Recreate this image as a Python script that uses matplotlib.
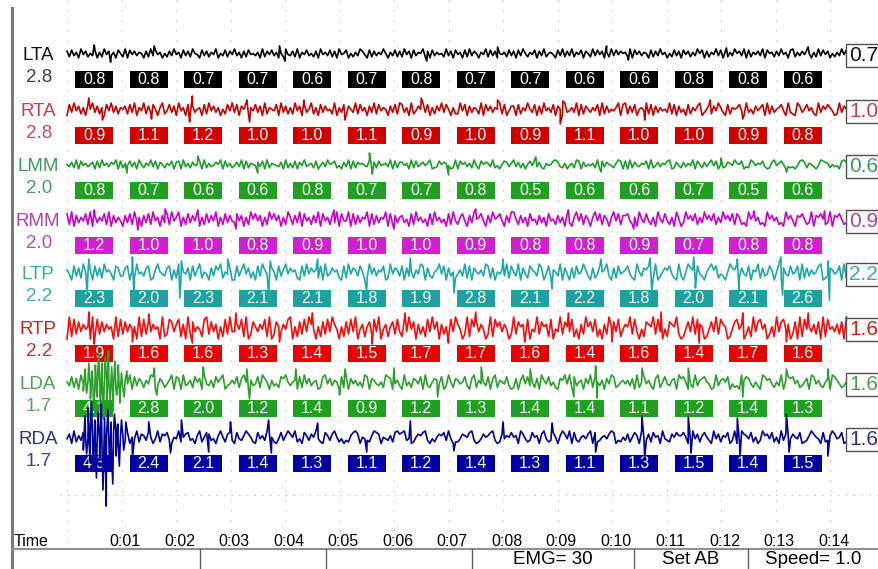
import numpy as np
import matplotlib.pyplot as plt
from matplotlib.patches import Rectangle

plt.rcParams['font.family'] = ['Liberation Sans', 'DejaVu Sans']

# channel names, gain shown under the name, value in the box at the right end
channels = ['LTA', 'RTA', 'LMM', 'RMM', 'LTP', 'RTP', 'LDA', 'RDA']
scales = ['2.8', '2.8', '2.0', '2.0', '2.2', '2.2', '1.7', '1.7']
right_values = ['0.7', '1.0', '0.6', '0.9', '2.2', '1.6', '1.6', '1.6']

# per second values in the small boxes
lta_rms = [0.8, 0.8, 0.7, 0.7, 0.6, 0.7, 0.8, 0.7, 0.7, 0.6, 0.6, 0.8, 0.8, 0.6]
rta_rms = [0.9, 1.1, 1.2, 1.0, 1.0, 1.1, 0.9, 1.0, 0.9, 1.1, 1.0, 1.0, 0.9, 0.8]
lmm_rms = [0.8, 0.7, 0.6, 0.6, 0.8, 0.7, 0.7, 0.8, 0.5, 0.6, 0.6, 0.7, 0.5, 0.6]
rmm_rms = [1.2, 1.0, 1.0, 0.8, 0.9, 1.0, 1.0, 0.9, 0.8, 0.8, 0.9, 0.7, 0.8, 0.8]
ltp_rms = [2.3, 2.0, 2.3, 2.1, 2.1, 1.8, 1.9, 2.8, 2.1, 2.2, 1.8, 2.0, 2.1, 2.6]
rtp_rms = [1.9, 1.6, 1.6, 1.3, 1.4, 1.5, 1.7, 1.7, 1.6, 1.4, 1.6, 1.4, 1.7, 1.6]
lda_rms = [4.1, 2.8, 2.0, 1.2, 1.4, 0.9, 1.2, 1.3, 1.4, 1.4, 1.1, 1.2, 1.4, 1.3]
rda_rms = [4.3, 2.4, 2.1, 1.4, 1.3, 1.1, 1.2, 1.4, 1.3, 1.1, 1.3, 1.5, 1.4, 1.5]

time_labels = ['0:01', '0:02', '0:03', '0:04', '0:05', '0:06', '0:07',
               '0:08', '0:09', '0:10', '0:11', '0:12', '0:13', '0:14']
status_texts = ['EMG= 30', 'Set AB', 'Speed= 1.0']

lta_trace = """728361947253816294736185 291847365172938461527394 618372954183726491538274
936172845361927483615294 372916483527194638271945 815263974182736495163827
294718365927183645293718 461829375164928371546283 718395264817392564183927
392648175293847162938475 629184736518273946152837 184726395817264938172639
573918264739185627394618 926374851629384715263948"""
rta_trace = """183947261859372618493726 572839164927385169248371 946182735618294736152849
381759264837192654819372 629471835926183745291638 175392846173928465173829
836192475938162749385162 294817365291847365928147 718264953817294638175293
463918275364819273546918 927381564928173645392817 351826479135827496318265
684193527468192735684193 219735846219375864129375"""
lmm_trace = """537291846357182946375918 264837195264938175264817 819362745819263475918362
473918265473819265437192 628174935628147395682417 391827564391728456391827
746192835746912385764129 185736294185763924158736 937261584937216458973261
462981735462918375426981 819274365819247365891274 273649185273694815237649
658132974658312794685132 314897265314987625341897"""
rmm_trace = """829173648291736482917364 173829461738294617382946 916283749162837491628374
384716295847162958471629 627391846273918462739184 491827365918273659182736
735182946351829463518294 268417395684173956841739 952736184527361845273618
316948275169482751694827 784261953842619538426195 139574826395748263957482
862319574623195746231957 417685239176852391768523"""
ltp_trace = """641837295461837295641873 378162945378126954378162 925471836925417386925471
183694725183964275183694 756218394756281934756218 294763851294736581294763
817352649817325694817352 463928175463982715463928 539174286539714826539174
172845963172485693172845 684219537684291357684219 315976284315796824315976
927438165927348615927438 458192736458912376458192"""
rtp_trace = """091827364509182736450918 273645091827364509128736 816092735418927360518293
364819027536481902753648 905172839640517283964051 728390461572839046157283
183947062518394706251839 640291857364029185736402 927561804392756180439275
381406295738140629573814 659283041765928304176592 014739286501473928650147
846025193784602519378460 270918453627091845362709"""
lda_trace = """538271946538217946583271 264918375264981375246918 719346285719436285791346
482795163482975163428795 356182947356128947365182 817463529817643529871463
193527648193257648139527 645831792645381792654831 271694835271964835217694
928356174928536174982356 463719258463179258436719 785142936785412936758142
319687425319867425391687 846235719846325719864235"""
rda_trace = """471926385471962385417926 638154927638514927683154 925783416925873416952783
184369752184639752148369 759241863759421863795241 326897154326987154362897
893412576893142576839412 247658931247568931274658 561974238561794238516974
918325647918235647981325 372586194372856194327586 685139472685319472658139
139764825139674825193764 754812369754182369745812"""

# spikes on top of the raw traces: (time s, height px, up positive)
lta_spikes = [(0.5, 9), (0.8, -8), (1.6, 8), (3.9, 8), (4.0, -7), (6.6, -7), (7.9, 7),
              (9.9, 8), (10.3, -6), (12.1, 6), (13.6, 7)]
rta_spikes = [(0.4, 12), (0.65, -10), (1.55, -9), (2.25, -12), (2.3, 14), (3.3, 10), (3.35, -12),
              (4.35, 10), (5.1, -10), (6.5, 12), (7.9, 10), (9.05, -14), (9.1, 9), (10.6, -10),
              (11.8, 10), (12.4, -9)]
lmm_spikes = [(1.1, -8), (2.4, 9), (3.5, -8), (5.55, 12), (5.6, -9), (7.0, -10), (8.6, 8),
              (9.8, -7), (12.0, 7), (13.2, -7)]
rmm_spikes = [(0.5, 10), (1.3, -10), (1.8, 11), (2.4, 10), (3.1, -9), (4.9, 10), (6.0, -9),
              (7.5, 11), (9.2, 10), (10.4, -9), (12.6, 9), (13.9, 9)]
ltp_spikes = [(0.37, -20), (0.4, 14), (1.2, 16), (1.23, -25), (2.07, -25), (2.1, 12), (2.95, 14),
              (3.7, -22), (3.73, 12), (4.6, 14), (5.5, -18), (6.3, 15), (7.1, -20), (8.0, 14),
              (8.9, -16), (9.8, 14), (10.7, 15), (10.73, -18), (11.5, 16), (11.53, -15),
              (12.3, 14), (12.33, -18), (13.1, 16), (13.13, -22), (13.96, 12), (13.99, -27)]
rtp_spikes = [(0.4, 16), (0.5, -16), (1.2, -14), (1.5, 14), (2.3, -15), (3.1, 15), (3.9, -14),
              (4.5, 15), (5.6, -16), (6.2, 15), (7.0, -15), (7.5, 16), (8.4, -14), (9.2, 15),
              (10.0, -14), (10.9, 16), (11.6, -15), (12.4, 15), (13.2, -14), (13.6, 15)]
lda_spikes = [(0.30, -8), (0.33, 14), (0.36, -10), (0.40, 20), (0.43, -16), (0.46, 12), (0.49, -24),
              (0.52, 18), (0.55, -14), (0.58, 30), (0.61, -26), (0.64, 20), (0.67, -36), (0.70, 26),
              (0.73, -22), (0.76, 32), (0.79, -18), (0.82, 16), (0.85, -28), (0.88, 22), (0.91, -12),
              (0.94, 18), (0.97, -20), (1.00, 10), (1.05, -14), (1.10, 12), (1.6, 15), (1.65, -12),
              (2.5, 16), (3.3, 14), (3.35, -16), (4.2, 14), (5.0, -12), (5.1, 14), (6.0, 15),
              (6.8, -14), (7.6, 16), (8.5, 14), (9.3, -14), (9.7, 17), (9.73, -15), (10.55, 15),
              (11.4, 15), (12.4, -14), (13.2, 14), (13.96, 14)]
rda_spikes = [(0.30, -12), (0.33, 22), (0.36, -16), (0.39, 30), (0.42, -24), (0.45, 36), (0.48, -32),
              (0.51, 18), (0.54, -40), (0.57, 26), (0.60, -22), (0.63, 34), (0.66, -52), (0.69, 20),
              (0.72, -68), (0.75, 28), (0.78, -30), (0.81, 16), (0.84, -46), (0.87, 24), (0.90, -18),
              (0.93, 14), (0.96, -28), (1.00, 18), (1.04, -12), (1.08, 16), (1.2, -20), (1.5, 16),
              (1.9, -15), (2.1, 18), (2.6, -14), (3.0, 16), (3.7, 18), (3.75, -15), (4.6, 15),
              (5.5, -14), (6.3, 17), (7.1, -13), (8.0, 16), (8.9, 15), (9.7, -14), (10.55, 22),
              (10.6, -20), (11.4, 21), (11.45, -15), (12.3, 20), (12.35, -18), (13.2, 24),
              (13.25, -14), (13.96, -18)]

rms_rows = [lta_rms, rta_rms, lmm_rms, rmm_rms, ltp_rms, rtp_rms, lda_rms, rda_rms]
trace_rows = [lta_trace, rta_trace, lmm_trace, rmm_trace, ltp_trace, rtp_trace, lda_trace, rda_trace]
spike_rows = [lta_spikes, rta_spikes, lmm_spikes, rmm_spikes, ltp_spikes, rtp_spikes, lda_spikes, rda_spikes]

# styling
trace_amp = [5, 7, 5, 8, 9, 11, 8, 7]
trace_colors = ['#000000', '#c80000', '#1f9e2a', '#cc00cc', '#20a8a8', '#ff0a0a', '#2ca02c', '#00009a']
box_colors = ['#000000', '#d00000', '#20a020', '#d020d0', '#20a0a0', '#e80000', '#20a020', '#0000a0']
label_colors = ['#101010', '#c04050', '#3a9a5a', '#b040b0', '#40a8a8', '#d02020', '#50a050', '#303080']
scale_colors = ['#404040', '#c05060', '#4a9a6a', '#b050b0', '#50a8a8', '#d03030', '#60a060', '#404090']
baselines = [54, 110, 165, 220, 273, 328, 383, 438]

X0, PXS = 67.0, 54.5   # pixel of t=0 and pixels per second
T_END = 14.3


def t_of(px):
    return (px - X0) / PXS


fig = plt.figure(figsize=(8.79, 5.69), dpi=100)
ax = fig.add_axes([0, 0, 1, 1])
ax.set_xlim(t_of(0), t_of(879))
ax.set_ylim(569, 0)
ax.axis('off')

# dotted grid
for k in range(15):
    ax.plot([k, k], [0, 545], color='#b4b4b4', lw=0.8, ls=(0, (1, 8)), zorder=1)
ax.plot([t_of(60), t_of(879)], [495, 495], color='#b4b4b4', lw=0.8, ls=(0, (1, 6)), zorder=1)

for r in range(len(channels)):
    base = baselines[r]
    digits = ''.join(trace_rows[r].split())
    levels = np.array([int(c) for c in digits], dtype=float)
    vals = (levels - 4.5) / 4.5 * trace_amp[r]
    ts = np.linspace(0, T_END, len(vals))
    sp_t = np.array([s[0] for s in spike_rows[r]])
    sp_v = np.array([s[1] for s in spike_rows[r]], dtype=float)
    t_all = np.concatenate([ts, sp_t])
    v_all = np.concatenate([vals, sp_v])
    order = np.argsort(t_all, kind='stable')
    ax.plot(t_all[order], base - v_all[order], color=trace_colors[r], lw=1.2, zorder=4)

    ax.text(t_of(38), base + 1, channels[r], color=label_colors[r], fontsize=13.5,
            ha='center', va='center', zorder=6)
    ax.text(t_of(39), base + 23, scales[r], color=scale_colors[r], fontsize=13.5,
            ha='center', va='center', zorder=6)

    for k, v in enumerate(rms_rows[r]):
        ax.add_patch(Rectangle((k + 0.5 - 0.35, base + 25 - 8.5), 0.7, 17,
                               facecolor=box_colors[r], edgecolor='none', zorder=2))
        ax.text(k + 0.5, base + 25.5, '%.1f' % v, color='white', fontsize=11.5,
                ha='center', va='center', zorder=3)

    ax.add_patch(Rectangle((t_of(846), base - 10), t_of(900) - t_of(846), 23,
                           facecolor='white', edgecolor='#505050', lw=1, zorder=5))
    ax.text(t_of(849), base + 1.5, right_values[r], color=label_colors[r], fontsize=15,
            ha='left', va='center', zorder=6)

# time axis labels
ax.text(t_of(14), 541, 'Time', fontsize=11.5, ha='left', va='center')
for k, lab in enumerate(time_labels):
    ax.text(k + 1 + 0.07, 541, lab, fontsize=11.5, ha='center', va='center')

# frame and status bar
ax.plot([t_of(12), t_of(12)], [8, 569], color='#7a7a7a', lw=2.2, zorder=7)
ax.plot([t_of(12), t_of(879)], [549, 549], color='#909090', lw=1.5, zorder=7)
for px in [200, 326, 472, 634, 748]:
    ax.plot([t_of(px), t_of(px)], [549, 569], color='#606060', lw=1, zorder=7)
for px, txt in zip([553, 691, 813], status_texts):
    ax.text(t_of(px), 560, txt, fontsize=13.5, ha='center', va='center')

fig.savefig('out.png', dpi=100)
